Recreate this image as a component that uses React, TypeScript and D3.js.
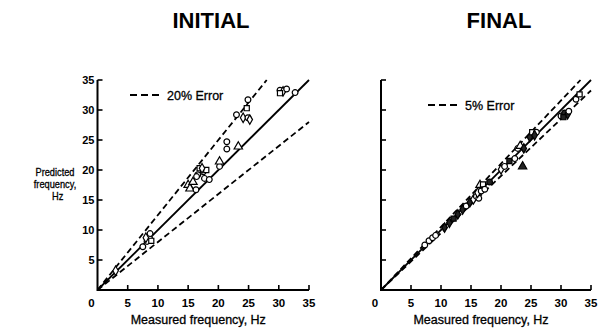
import React from "react";
import * as d3 from "d3";

const ticks = [5, 10, 15, 20, 25, 30, 35];
const xTickLabels = ["0", "5", "10", "15", "20", "25", "30", "35"];
const yTickLabels = ["5", "10", "15", "20", "25", "30", "35"];

const initialMeasured = [3, 7.5, 8.2, 8.5, 8.7, 8.9, 8.0, 15.0, 15.3, 15.8, 16.3, 16.6, 16.9, 17.5, 17.7, 18.0, 16.4, 17.3, 18.5, 20.2, 20.2, 21.4, 21.4, 23.3, 23.0, 24.1, 24.9, 25.2, 24.7, 24.9, 30.2, 30.7, 31.3, 30.2, 32.7];
const initialPredicted = [3.2, 7.2, 8.1, 8.9, 9.4, 8.2, 8.7, 17.5, 16.9, 18.0, 16.7, 19.2, 20.3, 19.7, 18.6, 20.0, 18.9, 20.3, 18.4, 20.6, 21.4, 23.5, 24.7, 23.9, 29.2, 28.7, 28.7, 28.4, 30.3, 31.7, 33.3, 33.1, 33.5, 32.8, 32.9];
const initialShape = ["d", "o", "o", "t", "o", "s", "d", "t", "t", "t", "o", "o", "s", "o", "o", "s", "o", "d", "o", "o", "t", "o", "o", "t", "o", "d", "o", "d", "s", "o", "o", "d", "o", "s", "o"];

const finalMeasured = [7.3, 8.0, 8.6, 9.1, 10.6, 11.4, 12.1, 12.8, 13.6, 14.2, 14.8, 15.4, 15.9, 16.3, 16.1, 16.7, 16.5, 17.0, 17.3, 18.1, 20.0, 20.6, 21.4, 22.3, 23.6, 22.8, 23.2, 23.8, 24.8, 25.2, 25.9, 25.6, 30.0, 30.6, 31.1, 31.3, 30.4, 32.5, 33.1];
const finalPredicted = [7.5, 8.2, 8.7, 9.1, 10.4, 11.2, 11.9, 12.6, 13.4, 14.0, 14.6, 15.1, 15.6, 15.3, 16.2, 16.5, 17.5, 17.6, 16.8, 18.0, 20.1, 20.6, 21.5, 21.9, 20.6, 23.6, 24.0, 23.6, 25.5, 26.3, 26.3, 25.8, 29.0, 29.5, 29.3, 29.8, 28.8, 31.8, 32.6];
const finalShape = ["o", "o", "o", "o", "d", "d", "s", "d", "d", "o", "d", "d", "o", "o", "d", "o", "t", "s", "o", "o", "d", "o", "s", "o", "t", "o", "t", "d", "d", "s", "o", "d", "o", "o", "d", "o", "s", "o", "s"];
const finalFill = ["w", "w", "w", "w", "k", "k", "k", "k", "k", "w", "k", "w", "w", "w", "w", "w", "w", "w", "w", "k", "w", "w", "k", "w", "k", "w", "w", "k", "k", "w", "w", "k", "w", "k", "k", "w", "k", "w", "w"];

const initialBands = [0.8, 1.25];
const finalBands = [0.95, 1 / 0.95];

const FONT = "'Liberation Sans', Arial, Helvetica, sans-serif";

const symbolTypes: Record<string, d3.SymbolType> = {
  o: d3.symbolCircle,
  s: d3.symbolSquare,
  t: d3.symbolTriangle,
  d: d3.symbolDiamond,
};

type PanelProps = {
  title: string;
  titleX: number;
  x0: number;
  x1: number;
  measured: number[];
  predicted: number[];
  shapes: string[];
  fills?: string[];
  bands: number[];
  legend: string;
  legendX: number;
  legendY: number;
  showYLabels: boolean;
};

function Panel(p: PanelProps) {
  const x = d3.scaleLinear().domain([0, 35]).range([p.x0, p.x1]);
  const y = d3.scaleLinear().domain([0, 35]).range([290, 80]);
  const line = d3
    .line<[number, number]>()
    .x((d) => x(d[0]))
    .y((d) => y(d[1]));
  const bandLine = (k: number): [number, number][] => {
    const xe = Math.min(35, 35 / k);
    return [
      [0, 0],
      [xe, xe * k],
    ];
  };
  const sym = d3.symbol();
  const heavy = { stroke: "#000", strokeWidth: 0.3 };
  return (
    <g fontFamily={FONT}>
      <text x={p.titleX} y={28} textAnchor="middle" fontSize={22} fontWeight="bold">
        {p.title}
      </text>
      {/* axes */}
      <path
        d={`M${x(0)},${y(35)}V${y(0)}H${x(35)}`}
        fill="none"
        stroke="#000"
        strokeWidth={2}
      />
      {ticks.map((t) => (
        <line key={"yt" + t} x1={x(0)} x2={x(0) + 5} y1={y(t)} y2={y(t)} stroke="#000" strokeWidth={1.6} />
      ))}
      {ticks.map((t) => (
        <line key={"xt" + t} x1={x(t)} x2={x(t)} y1={y(0)} y2={y(0) - 5} stroke="#000" strokeWidth={1.6} />
      ))}
      {p.showYLabels &&
        yTickLabels.map((l, i) => (
          <text key={"yl" + l} x={x(0) - 3} y={y(ticks[i]) + 4} textAnchor="end" fontSize={11} fontWeight="bold">
            {l}
          </text>
        ))}
      {xTickLabels.map((l, i) => (
        <text
          key={"xl" + l}
          x={i === 0 ? x(0) - 6 : x(ticks[i - 1])}
          y={307}
          textAnchor="middle"
          fontSize={11.5}
          fontWeight="bold"
        >
          {l}
        </text>
      ))}
      <text x={(x(0) + x(35)) / 2 - 5} y={324} textAnchor="middle" fontSize={12.5} {...heavy}>
        Measured frequency, Hz
      </text>
      {p.showYLabels && (
        <g transform="translate(55,0) scale(0.88,1)">
          <text x={0} y={176} textAnchor="middle" fontSize={10.5} {...heavy}>
            <tspan x={0}>Predicted</tspan>
            <tspan x={0} dy={12.5}>frequency,</tspan>
            <tspan x={3} dy={11.5}>Hz</tspan>
          </text>
        </g>
      )}
      {/* reference lines */}
      <path d={line(bandLine(1)) || ""} fill="none" stroke="#000" strokeWidth={1.8} />
      {p.bands.map((k) => (
        <path
          key={"b" + k}
          d={line(bandLine(k)) || ""}
          fill="none"
          stroke="#000"
          strokeWidth={1.8}
          strokeDasharray="6,3.5"
        />
      ))}
      {/* legend */}
      <line
        x1={p.legendX}
        x2={p.legendX + 31}
        y1={p.legendY}
        y2={p.legendY}
        stroke="#000"
        strokeWidth={1.8}
        strokeDasharray="7,4"
      />
      <text x={p.legendX + 37} y={p.legendY + 4.5} fontSize={12.5} {...heavy}>
        {p.legend}
      </text>
      {/* points */}
      {p.measured.map((m, i) => (
        <path
          key={"pt" + i}
          transform={`translate(${x(m)},${y(p.predicted[i])})`}
          d={sym.type(symbolTypes[p.shapes[i]]).size(p.shapes[i] === "t" ? 30 : 26)() || ""}
          fill={p.fills && p.fills[i] === "k" ? "#222" : "#fff"}
          stroke="#000"
          strokeWidth={1.2}
        />
      ))}
    </g>
  );
}

export default function App() {
  return (
    <svg width={600} height={335} style={{ position: "absolute", left: 0, top: 0, background: "#fff" }}>
      <rect width={600} height={335} fill="#fff" />
      <Panel
        title="INITIAL"
        titleX={211}
        x0={97.5}
        x1={309}
        measured={initialMeasured}
        predicted={initialPredicted}
        shapes={initialShape}
        bands={initialBands}
        legend="20% Error"
        legendX={130}
        legendY={95}
        showYLabels={true}
      />
      <Panel
        title="FINAL"
        titleX={499}
        x0={381}
        x1={591}
        measured={finalMeasured}
        predicted={finalPredicted}
        shapes={finalShape}
        fills={finalFill}
        bands={finalBands}
        legend="5% Error"
        legendX={428}
        legendY={105}
        showYLabels={false}
      />
    </svg>
  );
}
